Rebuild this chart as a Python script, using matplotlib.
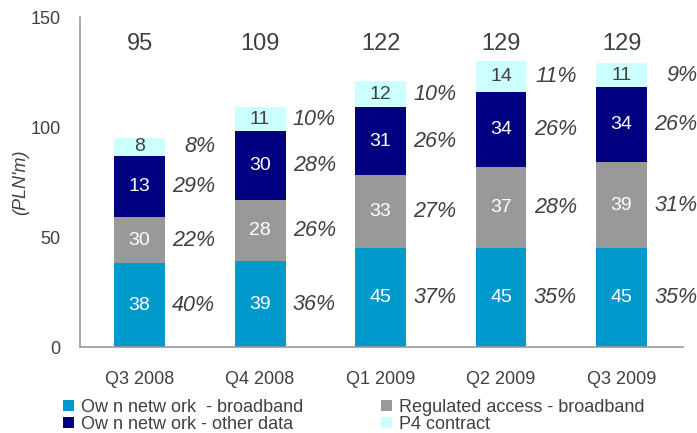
import matplotlib.pyplot as plt
import numpy as np

quarters = ['Q3 2008', 'Q4 2008', 'Q1 2009', 'Q2 2009', 'Q3 2009']
totals = [95, 109, 122, 129, 129]

# segment heights as drawn
own_bb = [38, 39, 45, 45, 45]
regulated = [21, 28, 33, 37, 39]
own_other = [28, 31, 31, 34, 34]
p4 = [8, 11, 12, 14, 11]

# labels printed inside the segments
own_bb_lbl = ['38', '39', '45', '45', '45']
regulated_lbl = ['30', '28', '33', '37', '39']
own_other_lbl = ['13', '30', '31', '34', '34']
p4_lbl = ['8', '11', '12', '14', '11']

# share labels right of the bars
own_bb_pct = ['40%', '36%', '37%', '35%', '35%']
regulated_pct = ['22%', '26%', '27%', '28%', '31%']
own_other_pct = ['29%', '28%', '26%', '26%', '26%']
p4_pct = ['8%', '10%', '10%', '11%', '9%']

series = [
    ('Ow n netw ork  - broadband', own_bb, own_bb_lbl, own_bb_pct, '#0099CC', 'white'),
    ('Regulated access - broadband', regulated, regulated_lbl, regulated_pct, '#999999', 'white'),
    ('Ow n netw ork - other data', own_other, own_other_lbl, own_other_pct, '#000080', 'white'),
    ('P4 contract', p4, p4_lbl, p4_pct, '#CCFFFF', '#404040'),
]

txt = '#404040'
plt.rcParams['font.family'] = ['Liberation Sans', 'DejaVu Sans']

fig = plt.figure(figsize=(6.97, 4.33), dpi=100)
ax = fig.add_axes([0.1148, 0.1986, 0.865, 0.762])

x = np.arange(len(quarters))
w = 0.423
bottom = np.zeros(len(quarters))
handles = []
for name, vals, lbls, pcts, col, tcol in series:
    vals = np.array(vals, dtype=float)
    b = ax.bar(x, vals, w, bottom=bottom, color=col, label=name,
               edgecolor='none')
    handles.append(b)
    for i in range(len(x)):
        yc = bottom[i] + vals[i] / 2
        ax.text(x[i], yc, lbls[i], ha='center', va='center', color=tcol,
                fontsize=14)
        ax.text(x[i] + 0.63, yc, pcts[i], ha='right', va='center',
                color=txt, fontsize=15.5, style='italic')
    bottom += vals

for i in range(len(x)):
    ax.text(x[i], 137.7, str(totals[i]), ha='center', va='center',
            color=txt, fontsize=17)

ax.set_xlim(-0.494, 4.51)
ax.set_ylim(0, 150)
ax.set_yticks([0, 50, 100, 150])
ax.set_xticks(x)
ax.set_xticklabels(quarters)
ax.tick_params(axis='both', length=0, labelsize=13, labelcolor=txt)
ax.tick_params(axis='y', pad=14)
ax.tick_params(axis='x', pad=17)
for s in ['top', 'right']:
    ax.spines[s].set_visible(False)
for s in ['left', 'bottom']:
    ax.spines[s].set_color('#999999')
    ax.spines[s].set_linewidth(1.2)
ax.set_ylabel("(PLN'm)", style='italic', color=txt, fontsize=13)
ax.yaxis.set_label_coords(-0.085, 0.5)

fig.legend(handles=[handles[0], handles[2], handles[1], handles[3]],
           labels=[series[0][0], series[2][0], series[1][0], series[3][0]],
           loc='lower left', bbox_to_anchor=(0.075, -0.025), ncol=2,
           frameon=False, fontsize=13, handlelength=0.6, handleheight=0.6,
           handletextpad=0.4, columnspacing=4.3, labelspacing=0.0,
           labelcolor=txt, borderaxespad=0.2)

fig.savefig('out.png', dpi=100)
